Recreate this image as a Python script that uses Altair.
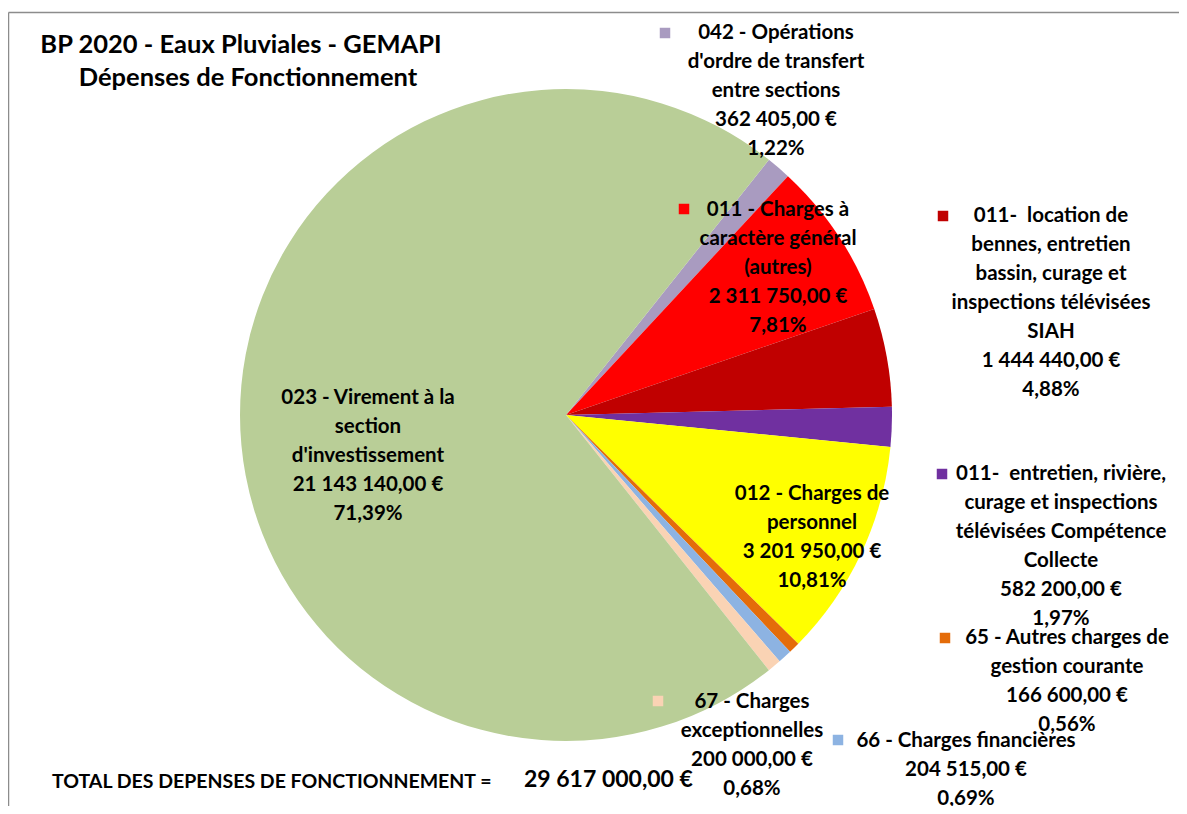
import math
import altair as alt
import pandas as pd

# ---------------- data ----------------
codes = ["042", "011a", "011b", "011c", "012", "65", "66", "67", "023"]
name_lines = [
    ["042 - Opérations", "d'ordre de transfert", "entre sections"],
    ["011 - Charges à", "caractère général", "(autres)"],
    ["011-\u00a0 location de", "bennes, entretien", "bassin, curage et", "inspections télévisées", "SIAH"],
    ["011-\u00a0 entretien, rivière,", "curage et inspections", "télévisées Compétence", "Collecte"],
    ["012 - Charges de", "personnel"],
    ["65 - Autres charges de", "gestion courante"],
    ["66 - Charges financières"],
    ["67 - Charges", "exceptionnelles"],
    ["023 - Virement à la", "section", "d'investissement"],
]
amounts = [362405.00, 2311750.00, 1444440.00, 582200.00, 3201950.00,
           166600.00, 204515.00, 200000.00, 21143140.00]
percents = ["1,22%", "7,81%", "4,88%", "1,97%", "10,81%", "0,56%", "0,69%", "0,68%", "71,39%"]
colors = ["#A99BC0", "#FF0000", "#C00000", "#7030A0", "#FFFF00",
          "#E46C0A", "#8DB3E2", "#FAD3B4", "#B9CE97"]
has_key = [True, True, True, True, False, True, True, True, False]

title_lines = ["BP 2020 - Eaux Pluviales - GEMAPI", "Dépenses de Fonctionnement"]
total_label = "TOTAL DES DEPENSES DE FONCTIONNEMENT ="
total_value = "29 617 000,00 €"

# ---------------- layout ----------------
W, H = 1171, 798
OFF = 8  # page margin
CX, CY, R = 566 - OFF, 415 - OFF, 326
START = math.radians(38.5)
LINE_H = 29
FONT = "Lato"
LABEL_SIZE = 20.5

# label block anchor (page coords): centre x of lines, y of first line
label_pos = [(776, 33), (778, 210), (1051, 216), (1061, 474), (812, 494),
             (1067, 638), (966, 741), (752, 702), (368, 398)]
key_pos = [(665, 33), (684, 209), (943, 216), (942, 474), None,
           (945, 638), (838, 740), (658, 701), None]


def fmt_eur(v):
    s = f"{v:,.2f}"
    return s.replace(",", " ").replace(".", ",") + " €"


pie_df = pd.DataFrame({
    "code": codes,
    "amount": amounts,
    "ord": list(range(len(codes))),
})

line_rows = []
key_rows = []
for i, code in enumerate(codes):
    lines = name_lines[i] + [fmt_eur(amounts[i]), percents[i]]
    lx, ly = label_pos[i]
    for j, t in enumerate(lines):
        line_rows.append({"x": lx - OFF, "y": ly - OFF + j * LINE_H, "text": t})
    if has_key[i] and key_pos[i] is not None:
        kx, ky = key_pos[i]
        key_rows.append({"x": kx - OFF, "y": ky - OFF, "code": code})
lines_df = pd.DataFrame(line_rows)
keys_df = pd.DataFrame(key_rows)

color_scale = alt.Scale(domain=codes, range=colors)

pie = alt.Chart(pie_df).mark_arc(radius=R, stroke=None).encode(
    theta=alt.Theta("amount:Q", stack=True,
                    scale=alt.Scale(range=[START, START + 2 * math.pi])),
    color=alt.Color("code:N", scale=color_scale, legend=None),
    order=alt.Order("ord:Q"),
    x=alt.value(CX),
    y=alt.value(CY),
)

labels = alt.Chart(lines_df).mark_text(
    font=FONT, fontSize=LABEL_SIZE, fontWeight="bold", align="center",
    baseline="middle", color="#000000"
).encode(
    x=alt.X("x:Q", scale=None, axis=None),
    y=alt.Y("y:Q", scale=None, axis=None),
    text="text:N",
)

keys = alt.Chart(keys_df).mark_square(size=110, opacity=1).encode(
    x=alt.X("x:Q", scale=None, axis=None),
    y=alt.Y("y:Q", scale=None, axis=None),
    color=alt.Color("code:N", scale=color_scale, legend=None),
)

title_df = pd.DataFrame({"x": [241 - OFF, 248 - OFF],
                         "y": [45 - OFF, 78 - OFF],
                         "text": title_lines})
title = alt.Chart(title_df).mark_text(
    font=FONT, fontSize=25.5, fontWeight="bold", align="center",
    baseline="middle", color="#000000"
).encode(
    x=alt.X("x:Q", scale=None, axis=None),
    y=alt.Y("y:Q", scale=None, axis=None),
    text="text:N",
)

total_df = pd.DataFrame({"x": [52 - OFF], "y": [782 - OFF], "text": [total_label]})
total = alt.Chart(total_df).mark_text(
    font=FONT, fontSize=19.5, fontWeight="bold", align="left",
    baseline="middle", color="#000000"
).encode(
    x=alt.X("x:Q", scale=None, axis=None),
    y=alt.Y("y:Q", scale=None, axis=None),
    text="text:N",
)
totv_df = pd.DataFrame({"x": [524 - OFF], "y": [780 - OFF], "text": [total_value]})
totv = alt.Chart(totv_df).mark_text(
    font=FONT, fontSize=23, fontWeight="bold", align="left",
    baseline="middle", color="#000000"
).encode(
    x=alt.X("x:Q", scale=None, axis=None),
    y=alt.Y("y:Q", scale=None, axis=None),
    text="text:N",
)

border_df = pd.DataFrame({"x": [0.5, 0.5], "x2": [W, 0.5],
                          "y": [4.5, 4.5], "y2": [4.5, H]})
border = alt.Chart(border_df).mark_rule(color="#8C8C8C", strokeWidth=1.5).encode(
    x=alt.X("x:Q", scale=None, axis=None),
    x2="x2:Q",
    y=alt.Y("y:Q", scale=None, axis=None),
    y2="y2:Q",
)

chart = alt.layer(border, pie, keys, labels, title, total, totv).properties(
    width=W, height=H, padding=0, autosize=alt.AutoSizeParams(type="none"),
    background="white",
).configure_view(stroke=None)

chart.save("out.html", embed_options={"renderer": "svg", "actions": False})
